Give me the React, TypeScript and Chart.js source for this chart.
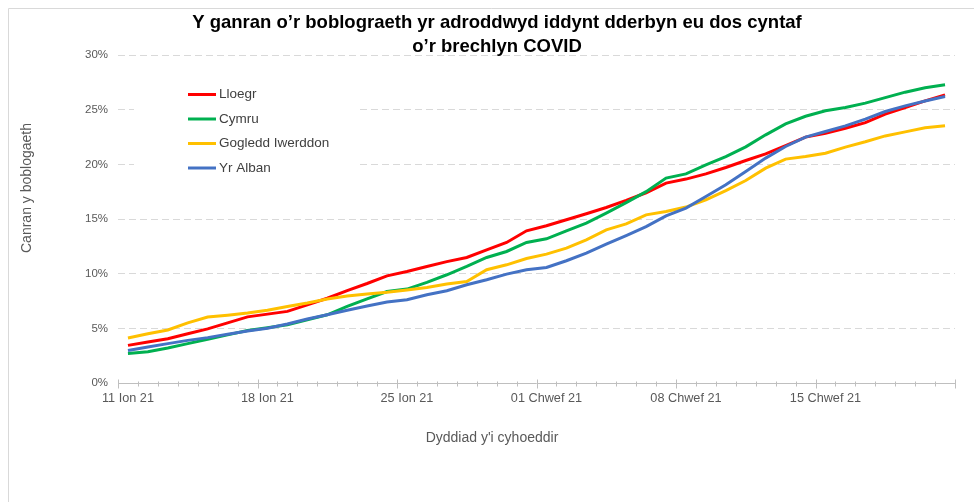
import React, { useEffect, useRef } from "react";
import { Chart, registerables } from "chart.js";

Chart.register(...registerables);

const titleLines = ["Y ganran o’r boblograeth yr adroddwyd iddynt dderbyn eu dos cyntaf", "o’r brechlyn COVID"];
const xTitle = "Dyddiad y'i cyhoeddir";
const yTitle = "Canran y boblogaeth";

const dates = [
  "11 Ion 21", "12 Ion 21", "13 Ion 21", "14 Ion 21", "15 Ion 21", "16 Ion 21", "17 Ion 21",
  "18 Ion 21", "19 Ion 21", "20 Ion 21", "21 Ion 21", "22 Ion 21", "23 Ion 21", "24 Ion 21",
  "25 Ion 21", "26 Ion 21", "27 Ion 21", "28 Ion 21", "29 Ion 21", "30 Ion 21", "31 Ion 21",
  "01 Chwef 21", "02 Chwef 21", "03 Chwef 21", "04 Chwef 21", "05 Chwef 21", "06 Chwef 21", "07 Chwef 21",
  "08 Chwef 21", "09 Chwef 21", "10 Chwef 21", "11 Chwef 21", "12 Chwef 21", "13 Chwef 21", "14 Chwef 21",
  "15 Chwef 21", "16 Chwef 21", "17 Chwef 21", "18 Chwef 21", "19 Chwef 21", "20 Chwef 21", "21 Chwef 21",
];

const lloegr = [
  3.44, 3.75, 4.05, 4.5, 4.95, 5.5, 6.05, 6.3, 6.55, 7.15, 7.75, 8.45, 9.1, 9.8,
  10.2, 10.66, 11.1, 11.48, 12.18, 12.85, 13.92, 14.38, 14.93, 15.48, 16.05, 16.7, 17.4, 18.28,
  18.65, 19.13, 19.71, 20.35, 20.96, 21.72, 22.49, 22.85, 23.3, 23.82, 24.6, 25.2, 25.8, 26.35,
];
const cymru = [
  2.7, 2.85, 3.2, 3.6, 4.0, 4.4, 4.8, 5.05, 5.33, 5.79, 6.24, 7.0, 7.7, 8.37,
  8.59, 9.2, 9.9, 10.66, 11.48, 12.03, 12.85, 13.19, 13.92, 14.62, 15.54, 16.5, 17.5, 18.74,
  19.13, 19.95, 20.7, 21.6, 22.7, 23.7, 24.4, 24.9, 25.2, 25.6, 26.1, 26.6, 27.0, 27.27,
];
const gogleddIwerddon = [
  4.11, 4.5, 4.85, 5.5, 6.03, 6.2, 6.4, 6.65, 7.0, 7.31, 7.68, 7.95, 8.15, 8.3,
  8.5, 8.74, 9.05, 9.29, 10.36, 10.81, 11.39, 11.79, 12.34, 13.1, 14.0, 14.56, 15.38, 15.69,
  16.09, 16.76, 17.6, 18.52, 19.65, 20.48, 20.71, 21.02, 21.57, 22.06, 22.6, 22.97, 23.34, 23.52,
];
const yrAlban = [
  2.98, 3.3, 3.6, 3.9, 4.15, 4.45, 4.75, 5.0, 5.39, 5.85, 6.24, 6.65, 7.05, 7.4,
  7.61, 8.07, 8.44, 8.99, 9.44, 9.96, 10.36, 10.57, 11.18, 11.88, 12.7, 13.49, 14.3, 15.29,
  16.0, 17.06, 18.13, 19.35, 20.57, 21.63, 22.49, 23.0, 23.52, 24.13, 24.83, 25.35, 25.8, 26.2,
];

const seriesNames = ["Lloegr", "Cymru", "Gogledd Iwerddon", "Yr Alban"];
const seriesColors = ["#FF0000", "#00B050", "#FFC000", "#4472C4"];
const seriesData = [lloegr, cymru, gogleddIwerddon, yrAlban];
const yTicks = [0, 5, 10, 15, 20, 25, 30];

const FONT = '"Liberation Sans", Arial, sans-serif';

const decorPlugin = {
  id: "decor",
  afterDraw(chart: any) {
    const ctx = chart.ctx as CanvasRenderingContext2D;
    const area = chart.chartArea;
    const xs = chart.scales.x;
    ctx.save();

    // frame
    ctx.strokeStyle = "#d9d9d9";
    ctx.lineWidth = 1;
    ctx.beginPath();
    ctx.moveTo(8.5, chart.height);
    ctx.lineTo(8.5, 8.5);
    ctx.lineTo(chart.width, 8.5);
    ctx.stroke();

    // title
    ctx.fillStyle = "#000000";
    ctx.font = `bold 18.5px ${FONT}`;
    ctx.textAlign = "center";
    ctx.textBaseline = "middle";
    ctx.fillText(titleLines[0], 497, 23);
    ctx.fillText(titleLines[1], 497, 47);

    // x axis line and ticks
    const bottom = Math.round(area.bottom) + 0.5;
    ctx.strokeStyle = "#bfbfbf";
    ctx.beginPath();
    ctx.moveTo(area.left, bottom);
    ctx.lineTo(area.right, bottom);
    const step = xs.getPixelForValue(1) - xs.getPixelForValue(0);
    const start = xs.getPixelForValue(0) - step / 2;
    for (let k = 0; k <= dates.length; k++) {
      const x = Math.round(start + k * step) + 0.5;
      const major = k % 7 === 0 || k === dates.length;
      ctx.moveTo(x, bottom - (major ? 4 : 2));
      ctx.lineTo(x, bottom + (major ? 5 : 3));
    }
    ctx.stroke();

    // axis titles
    ctx.fillStyle = "#595959";
    ctx.font = `14px ${FONT}`;
    ctx.fillText(xTitle, 492, 438);
    ctx.save();
    ctx.translate(27, 188);
    ctx.rotate(-Math.PI / 2);
    ctx.fillText(yTitle, 0, 0);
    ctx.restore();

    // legend
    ctx.fillStyle = "#ffffff";
    ctx.fillRect(134, 72, 222, 118);
    ctx.font = `13.5px ${FONT}`;
    ctx.textAlign = "left";
    seriesNames.forEach((name, i) => {
      const y = 94.5 + i * 24.5;
      ctx.strokeStyle = seriesColors[i];
      ctx.lineWidth = 3;
      ctx.beginPath();
      ctx.moveTo(188, y);
      ctx.lineTo(216, y);
      ctx.stroke();
      ctx.fillStyle = "#404040";
      ctx.fillText(name, 219, y);
    });
    ctx.restore();
  },
};

export default function App() {
  const ref = useRef<HTMLCanvasElement | null>(null);
  useEffect(() => {
    document.body.style.margin = "0";
    const canvas = ref.current!;
    const chart = new Chart(canvas, {
      type: "line",
      data: {
        labels: dates,
        datasets: seriesData.map((d, i) => ({
          label: seriesNames[i],
          data: d,
          borderColor: seriesColors[i],
          backgroundColor: seriesColors[i],
          borderWidth: 3,
          pointRadius: 0,
          tension: 0,
          fill: false,
          order: seriesData.length - i,
        })),
      },
      options: {
        responsive: false,
        animation: false,
        layout: { padding: { left: 0, right: 19, top: 55, bottom: 0 } },
        plugins: { legend: { display: false }, title: { display: false }, tooltip: { enabled: false } },
        scales: {
          x: {
            type: "category",
            offset: true,
            grid: { display: false, drawTicks: false },
            border: { display: false },
            ticks: {
              autoSkip: false,
              maxRotation: 0,
              minRotation: 0,
              padding: 8,
              color: "#595959",
              font: { family: FONT, size: 12.7 },
              callback: (_v: any, i: number) => (i % 7 === 0 ? dates[i] : ""),
            },
            afterFit: (s: any) => {
              s.height = 119;
            },
          },
          y: {
            min: 0,
            max: 30,
            afterBuildTicks: (s: any) => {
              s.ticks = yTicks.map((v) => ({ value: v }));
            },
            grid: {
              drawTicks: false,
              color: (c: any) => (c.tick && c.tick.value === 0 ? "rgba(0,0,0,0)" : "#d9d9d9"),
              lineWidth: 1,
            },
            border: { display: false, dash: [7, 4] },
            ticks: {
              padding: 10,
              color: "#595959",
              font: { family: FONT, size: 11.5 },
              callback: (v: any) => v + "%",
            },
            afterFit: (s: any) => {
              s.width = 118;
            },
          },
        },
      },
      plugins: [decorPlugin],
    });
    return () => chart.destroy();
  }, []);
  return (
    <div style={{ width: 974, height: 502 }}>
      <canvas ref={ref} width={974} height={502} style={{ display: "block" }} />
    </div>
  );
}
